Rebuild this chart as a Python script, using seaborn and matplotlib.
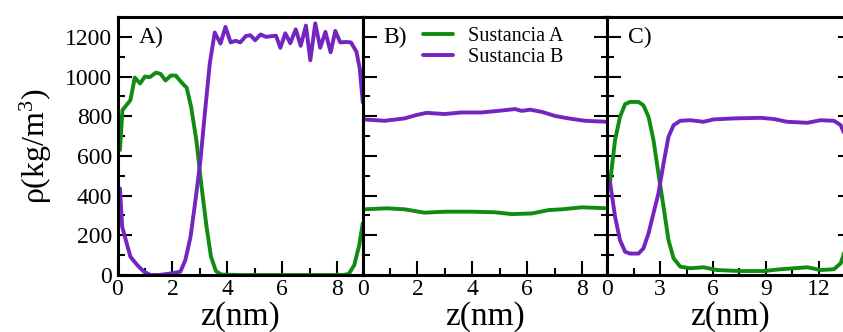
import matplotlib
matplotlib.use("Agg")
import matplotlib.pyplot as plt
from matplotlib.ticker import MultipleLocator
import seaborn as sns
import pandas as pd

# ---------------- data ----------------
series_names = ["Sustancia A", "Sustancia B"]
panel_labels = ["A)", "B)", "C)"]

# Panel A
a_green_z = [0.09, 0.18, 0.47, 0.63, 0.82, 1.0, 1.18, 1.4, 1.57, 1.75, 1.94, 2.12,
             2.32, 2.52, 2.68, 2.87, 3.06, 3.24, 3.4, 3.58, 3.78, 4.5, 5.5, 6.5,
             7.5, 8.2, 8.42, 8.62, 8.8, 8.93]
a_green_rho = [630, 831, 881, 995, 965, 1000, 997, 1020, 1013, 980, 1005, 1005,
               972, 943, 847, 680, 445, 245, 95, 20, 2, 0, 0, 0,
               0, 0, 5, 50, 150, 260]
a_purple_z = [0.09, 0.17, 0.47, 0.72, 0.96, 1.2, 1.5, 1.8, 2.05, 2.29, 2.47, 2.66,
              2.84, 3.02, 3.18, 3.36, 3.54, 3.75, 3.93, 4.12, 4.3, 4.47, 4.67, 4.84,
              5.01, 5.21, 5.4, 5.6, 5.77, 5.93, 6.11, 6.29, 6.49, 6.67, 6.86, 7.02,
              7.2, 7.38, 7.57, 7.76, 7.93, 8.11, 8.33, 8.5, 8.7, 8.82, 8.93]
a_purple_rho = [436, 243, 92, 50, 17, 0, 0, 5, 10, 17, 75, 193,
                378, 579, 814, 1066, 1222, 1166, 1250, 1172, 1180, 1172, 1204, 1208,
                1183, 1212, 1200, 1203, 1206, 1145, 1218, 1168, 1238, 1155, 1257, 1082,
                1268, 1145, 1225, 1122, 1230, 1172, 1174, 1172, 1125, 1040, 870]

# Panel B
b_green_z = [0.05, 0.9, 1.53, 2.26, 2.99, 3.96, 4.82, 5.43, 6.16, 6.77, 7.26, 7.99, 8.92]
b_green_rho = [331, 336, 331, 314, 319, 319, 316, 307, 310, 327, 331, 341, 336]
b_purple_z = [0.05, 0.8, 1.53, 1.96, 2.33, 2.99, 3.6, 4.33, 4.94, 5.55, 5.8, 6.1,
              6.53, 7.02, 7.5, 8.1, 8.92]
b_purple_rho = [784, 777, 789, 806, 817, 811, 819, 819, 827, 836, 827, 833,
                822, 801, 789, 777, 772]

# Panel C
c_green_z = [0.15, 0.44, 0.72, 1.01, 1.29, 1.77, 2.05, 2.34, 2.62, 2.9, 3.19, 3.47,
             3.76, 4.14, 4.7, 5.46, 6.22, 7.55, 8.88, 9.83, 10.6, 11.35, 12.1,
             12.86, 13.24, 13.4, 13.9]
c_green_rho = [462, 680, 797, 861, 872, 872, 855, 797, 680, 512, 344, 176,
               84, 42, 34, 39, 25, 20, 20, 29, 34, 39, 25,
               29, 59, 101, 260]
c_purple_z = [0.15, 0.44, 0.72, 1.01, 1.29, 1.77, 2.05, 2.34, 2.62, 2.9, 3.19, 3.47,
              3.76, 4.14, 4.7, 5.46, 6.03, 7.17, 8.69, 9.45, 10.2, 11.35, 12.1,
              12.86, 13.24, 13.4, 13.9]
c_purple_rho = [470, 294, 176, 117, 108, 108, 134, 210, 311, 411, 562, 696,
                755, 777, 780, 772, 784, 789, 792, 786, 772, 767, 780,
                777, 755, 722, 640]

x_limits = [8.92, 8.92, 13.9]
x_major = [2, 2, 3]
x_minor = [1, 1, 1.5]

# ---------------- style ----------------
sns.set_style("ticks")
plt.rcParams["font.family"] = ["Liberation Serif", "DejaVu Serif"]
plt.rcParams["mathtext.fontset"] = "custom"
plt.rcParams["mathtext.rm"] = "Liberation Serif"
plt.rcParams["mathtext.it"] = "Liberation Serif:italic"
plt.rcParams["mathtext.bf"] = "Liberation Serif:bold"
plt.rcParams["text.color"] = "black"
plt.rcParams["axes.labelcolor"] = "black"
plt.rcParams["xtick.color"] = "black"
plt.rcParams["ytick.color"] = "black"
plt.rcParams["xtick.labelcolor"] = "black"
plt.rcParams["ytick.labelcolor"] = "black"

green = "#118b11"
purple = "#7424c0"
palette = {series_names[0]: green, series_names[1]: purple}

fig = plt.figure(figsize=(8.43, 3.32), dpi=100)
lefts = [117.5 / 843, 362.5 / 843, 607.3 / 843]
width = 245 / 843
bottom = 57 / 332
height = 258 / 332

panels = [
    (a_green_z, a_green_rho, a_purple_z, a_purple_rho),
    (b_green_z, b_green_rho, b_purple_z, b_purple_rho),
    (c_green_z, c_green_rho, c_purple_z, c_purple_rho),
]

axes = []
for i, (gz, gr, pz, pr) in enumerate(panels):
    ax = fig.add_axes([lefts[i], bottom, width, height])
    axes.append(ax)
    df = pd.DataFrame({
        "z": list(gz) + list(pz),
        "rho": list(gr) + list(pr),
        "serie": [series_names[0]] * len(gz) + [series_names[1]] * len(pz),
    })
    sns.lineplot(data=df, x="z", y="rho", hue="serie", palette=palette,
                 hue_order=series_names, linewidth=2.8, sort=False,
                 estimator=None, ax=ax, legend=(i == 1))
    ax.set_xlim(0, x_limits[i])
    ax.set_ylim(0, 1300)
    ax.xaxis.set_major_locator(MultipleLocator(x_major[i]))
    ax.xaxis.set_minor_locator(MultipleLocator(x_minor[i]))
    ax.yaxis.set_major_locator(MultipleLocator(200))
    ax.yaxis.set_minor_locator(MultipleLocator(100))
    ax.tick_params(which="both", direction="in", width=1.5, color="black",
                   labelcolor="black",
                   top=False, bottom=True, left=True, right=(i > 0))
    ax.tick_params(which="major", length=10, labelsize=17, pad=4)
    ax.tick_params(which="minor", length=5)
    ax.tick_params(axis="x", which="major", pad=3)
    if i > 0:
        ax.tick_params(axis="y", labelleft=False)
    for sp in ax.spines.values():
        sp.set_linewidth(2.2)
        sp.set_color("black")
    ax.set_xlabel("z(nm)", fontsize=24, labelpad=1, color="black")
    if i == 0:
        ax.set_ylabel(r"ρ(kg/m$^{\mathrm{3}}$)", fontsize=23, labelpad=8,
                      color="black")
    else:
        ax.set_ylabel("")
    ax.text(21 / 245, (275 - 43.5) / 258, panel_labels[i], transform=ax.transAxes,
            fontsize=17, ha="left", va="baseline", color="black")

# legend in panel B
axb = axes[1]
handles, labels = axb.get_legend_handles_labels()
if axb.get_legend() is not None:
    axb.get_legend().remove()
leg = axb.legend(handles, labels, loc="upper left",
                 bbox_to_anchor=((423 - 362.5) / 245, (275 - 27) / 258),
                 frameon=False, fontsize=14.5, handlelength=1.5,
                 handletextpad=0.75, labelspacing=0.1, borderpad=0,
                 borderaxespad=0, labelcolor="black")
for line in leg.get_lines():
    line.set_linewidth(2.8)

fig.savefig("out.png", dpi=100)
